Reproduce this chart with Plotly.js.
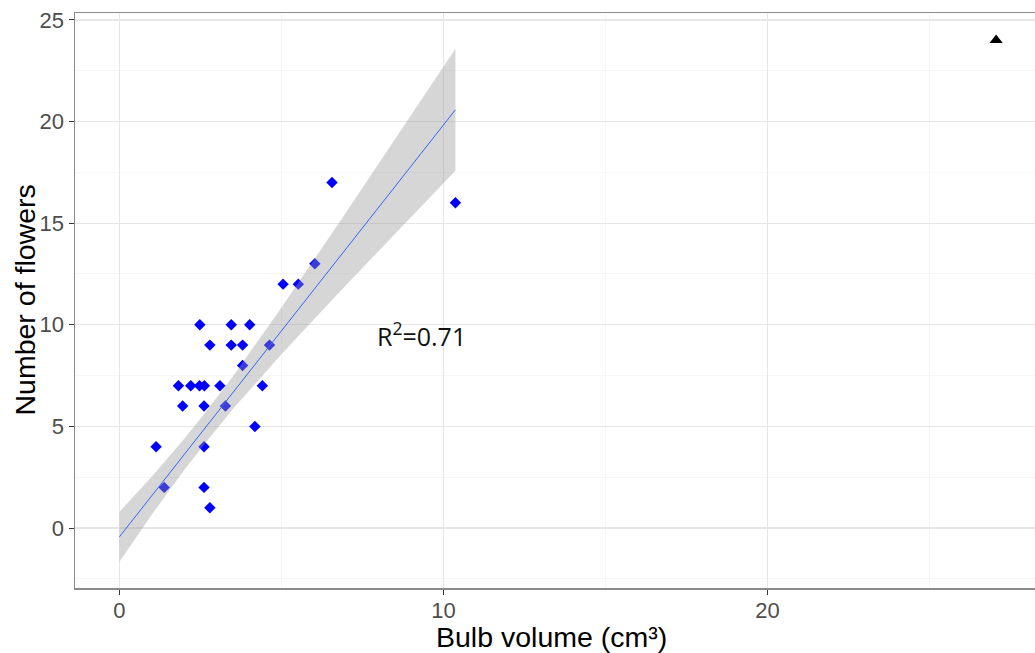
<!DOCTYPE html>
<html>
<head>
<meta charset="utf-8">
<script src="https://cdn.plot.ly/plotly-3.0.1.min.js"></script>
<style>html,body{margin:0;padding:0;background:#fff;overflow:hidden}#chart{width:1035px;height:653px}</style>
</head>
<body>
<div id="chart"></div>
<script>
// Observed points (bulb volume, number of flowers)
const bulbVolume = [1.13, 1.38, 1.82, 1.95, 2.20, 2.47, 2.48, 2.61, 2.61, 2.61, 2.62, 2.79, 2.79, 3.10,
  3.27, 3.45, 3.45, 3.80, 3.80, 4.02, 4.18, 4.41, 4.63, 5.05, 5.52, 6.03, 6.56, 10.37];
const flowers = [4, 2, 7, 6, 7, 7, 10, 6, 4, 2, 7, 9, 1, 7,
  6, 10, 9, 8, 9, 10, 5, 7, 9, 12, 12, 13, 17, 16];

// Separate point (triangle)
const otherVolume = [27.06];
const otherFlowers = [24];

// Fitted line
const fitX = [0, 10.37];
const fitY = [-0.43, 20.58];

// Confidence band
const bandX = [0, 1, 2, 2.6, 3.5, 5, 6.8, 8.5, 10.37];
const bandUpper = [0.80, 2.53, 4.39, 5.59, 7.46, 10.85, 15.07, 19.12, 23.58];
const bandLower = [-1.66, 0.67, 2.85, 4.09, 5.86, 8.55, 11.63, 14.46, 17.58];

const xTicks = [0, 10, 20];
const yTicks = [0, 5, 10, 15, 20, 25];

const xTitle = 'Bulb volume (cm³)';
const yTitle = 'Number of flowers';
const annotationText = 'R<sup>2</sup>=0.71';
const annotationPos = {x: 9.32, y: 9.5};

const traces = [
  {
    type: 'scatter', mode: 'markers', x: bulbVolume, y: flowers,
    marker: {symbol: 'diamond', size: 8.8, color: '#0000ff', line: {width: 0}},
    hoverinfo: 'x+y', showlegend: false
  },
  {
    type: 'scatter', mode: 'markers', x: otherVolume, y: otherFlowers,
    marker: {symbol: 'triangle-up', size: 11.5, color: '#000000', line: {width: 0}},
    showlegend: false
  },
  {
    type: 'scatter', mode: 'lines',
    x: bandX.concat(bandX.slice().reverse()),
    y: bandUpper.concat(bandLower.slice().reverse()),
    fill: 'toself', fillcolor: 'rgba(153,153,153,0.4)',
    line: {width: 0, color: 'rgba(0,0,0,0)'},
    hoverinfo: 'skip', showlegend: false
  },
  {
    type: 'scatter', mode: 'lines', x: fitX, y: fitY,
    line: {color: '#3366ff', width: 1},
    hoverinfo: 'skip', showlegend: false
  }
];

const tickFont = {family: 'Liberation Sans, Arial, sans-serif', size: 22, color: '#4d4d4d'};
const titleFont = {family: 'Liberation Sans, Arial, sans-serif', size: 28.5, color: '#000000'};

const layout = {
  width: 1035, height: 653,
  margin: {l: 75, r: 0, t: 13, b: 65, pad: 0},
  paper_bgcolor: '#ffffff', plot_bgcolor: '#ffffff',
  showlegend: false,
  xaxis: {
    range: [-1.373, 28.26], tickvals: xTicks, ticktext: xTicks.map(String),
    showgrid: true, gridcolor: '#e6e6e6', gridwidth: 1.2,
    minor: {dtick: 5, tick0: 5, showgrid: true, gridcolor: '#f4f4f4', gridwidth: 0.8},
    zeroline: false, showline: true, mirror: true, linecolor: '#8c8c8c', linewidth: 1.5,
    ticks: 'outside', ticklen: 5, tickwidth: 1, tickcolor: '#333333',
    ticklabelstandoff: -3,
    tickfont: tickFont,
    automargin: false
  },
  yaxis: {
    range: [-2.95, 25.34], tickvals: yTicks, ticktext: yTicks.map(String),
    showgrid: true, gridcolor: '#e6e6e6', gridwidth: 1.2,
    minor: {dtick: 5, tick0: 2.5, showgrid: true, gridcolor: '#f4f4f4', gridwidth: 0.8},
    zeroline: false, showline: true, mirror: false, linecolor: '#8c8c8c', linewidth: 1.5,
    ticks: 'outside', ticklen: 5, tickwidth: 1, tickcolor: '#333333',
    tickfont: tickFont,
    automargin: false
  },
  annotations: [
    {
      xref: 'paper', yref: 'paper', x: 0.5, y: 0, yshift: -49, xshift: -4,
      xanchor: 'center', yanchor: 'middle', text: xTitle, showarrow: false, font: titleFont
    },
    {
      xref: 'paper', yref: 'paper', x: 0, y: 0.5, xshift: -51,
      xanchor: 'center', yanchor: 'middle', textangle: -90,
      text: yTitle, showarrow: false, font: titleFont
    },
    {
      x: annotationPos.x, y: annotationPos.y, xref: 'x', yref: 'y',
      text: annotationText, showarrow: false,
      font: {family: 'Open Sans, Liberation Sans, sans-serif', size: 25, color: '#111111'}
    }
  ]
};

Plotly.newPlot('chart', traces, layout, {displayModeBar: false, staticPlot: true});
</script>
</body>
</html>
